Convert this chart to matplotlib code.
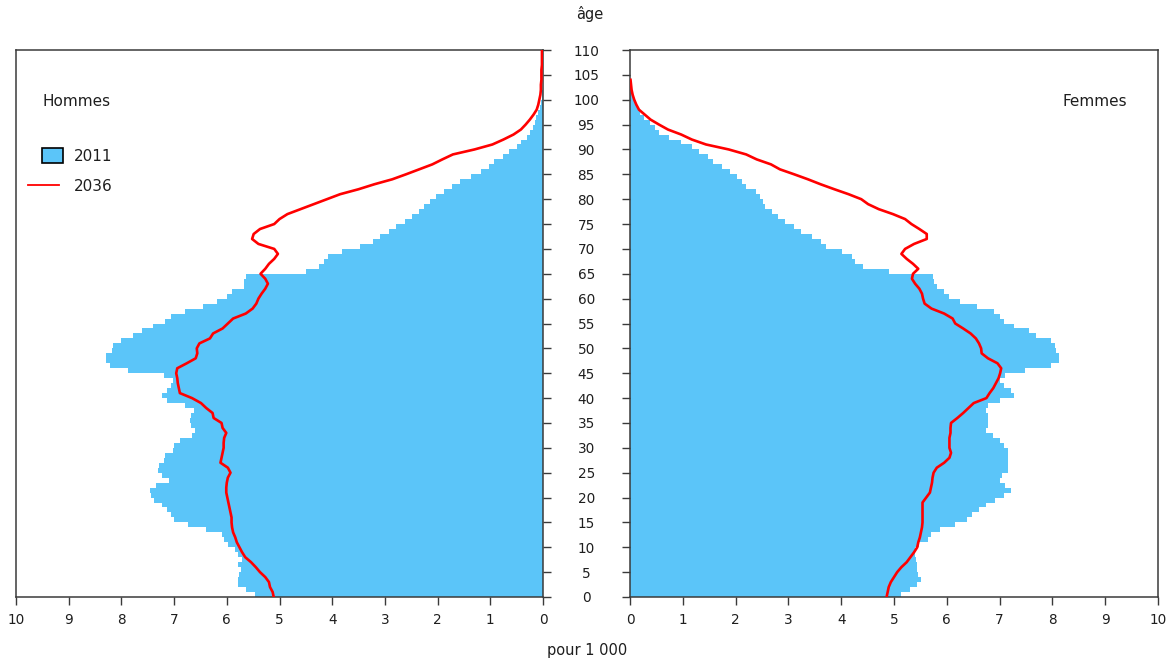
import numpy as np
import matplotlib
matplotlib.use("Agg")
import matplotlib.pyplot as plt
from matplotlib.patches import Patch, Rectangle
from matplotlib.lines import Line2D
from matplotlib.legend_handler import HandlerPatch

# ---------------- data (pour 1 000) ----------------
hommes_2011 = [5.47, 5.64, 5.78, 5.79, 5.76, 5.73, 5.78, 5.71, 5.79, 5.84,
               5.98, 6.06, 6.10, 6.39, 6.73, 7.00, 7.05, 7.13, 7.23, 7.39,
               7.44, 7.46, 7.34, 7.10, 7.23, 7.30, 7.28, 7.19, 7.17, 7.03,
               7.01, 6.89, 6.66, 6.61, 6.67, 6.69, 6.67, 6.62, 6.79, 7.13,
               7.23, 7.13, 7.06, 7.03, 7.20, 7.88, 8.22, 8.30, 8.30, 8.18,
               8.16, 8.01, 7.78, 7.61, 7.40, 7.17, 7.06, 6.79, 6.45, 6.18,
               6.00, 5.91, 5.68, 5.68, 5.64, 4.49, 4.25, 4.16, 4.08, 3.81,
               3.47, 3.23, 3.10, 2.93, 2.78, 2.62, 2.49, 2.35, 2.25, 2.15,
               2.03, 1.88, 1.72, 1.57, 1.37, 1.17, 1.02, 0.93, 0.76, 0.64,
               0.50, 0.42, 0.30, 0.25, 0.19, 0.15, 0.13, 0.09, 0.06, 0.03,
               0.02, 0.01, 0.005]
hommes_2036 = [5.11, 5.13, 5.18, 5.20, 5.27, 5.37, 5.45, 5.54, 5.65, 5.71,
               5.76, 5.81, 5.84, 5.88, 5.90, 5.91, 5.91, 5.93, 5.95, 5.97,
               5.99, 6.01, 6.01, 6.00, 5.98, 5.93, 5.98, 6.12, 6.10, 6.08,
               6.06, 6.06, 6.05, 6.01, 6.08, 6.10, 6.25, 6.27, 6.39, 6.49,
               6.66, 6.89, 6.91, 6.93, 6.94, 6.96, 6.94, 6.76, 6.59, 6.56,
               6.57, 6.52, 6.32, 6.26, 6.08, 5.98, 5.88, 5.64, 5.51, 5.44,
               5.40, 5.34, 5.27, 5.22, 5.27, 5.36, 5.27, 5.20, 5.10, 5.03,
               5.10, 5.40, 5.52, 5.49, 5.37, 5.10, 5.00, 4.85, 4.60, 4.35,
               4.10, 3.85, 3.50, 3.20, 2.86, 2.60, 2.35, 2.10, 1.91, 1.71,
               1.30, 0.96, 0.75, 0.56, 0.42, 0.33, 0.25, 0.18, 0.12, 0.09,
               0.07, 0.05, 0.04, 0.04, 0.03, 0.03, 0.03, 0.02, 0.02, 0.02,
               0.02]
femmes_2011 = [5.14, 5.31, 5.44, 5.51, 5.46, 5.44, 5.44, 5.42, 5.40, 5.40,
               5.48, 5.64, 5.71, 5.88, 6.15, 6.38, 6.48, 6.61, 6.75, 6.91,
               7.08, 7.21, 7.11, 7.00, 7.05, 7.15, 7.16, 7.16, 7.16, 7.15,
               7.08, 7.01, 6.87, 6.75, 6.78, 6.78, 6.78, 6.75, 6.78, 7.01,
               7.28, 7.21, 7.09, 7.01, 7.11, 7.48, 7.98, 8.12, 8.12, 8.06,
               8.05, 7.98, 7.68, 7.55, 7.28, 7.09, 7.01, 6.90, 6.58, 6.25,
               6.05, 5.95, 5.81, 5.75, 5.73, 4.90, 4.41, 4.26, 4.21, 4.01,
               3.71, 3.61, 3.44, 3.24, 3.11, 2.94, 2.81, 2.69, 2.56, 2.52,
               2.47, 2.39, 2.20, 2.12, 2.02, 1.90, 1.74, 1.57, 1.48, 1.30,
               1.17, 0.97, 0.73, 0.55, 0.47, 0.37, 0.27, 0.19, 0.15, 0.11,
               0.08, 0.05, 0.03, 0.01]
femmes_2036 = [4.86, 4.88, 4.90, 4.94, 5.00, 5.06, 5.14, 5.24, 5.31, 5.38,
               5.44, 5.46, 5.49, 5.51, 5.53, 5.54, 5.54, 5.54, 5.54, 5.54,
               5.61, 5.68, 5.70, 5.72, 5.73, 5.75, 5.81, 5.95, 6.05, 6.08,
               6.05, 6.05, 6.05, 6.07, 6.07, 6.08, 6.20, 6.31, 6.41, 6.51,
               6.75, 6.81, 6.88, 6.93, 6.98, 7.01, 7.03, 6.96, 6.78, 6.66,
               6.65, 6.61, 6.55, 6.45, 6.31, 6.16, 6.11, 5.95, 5.71, 5.58,
               5.55, 5.53, 5.48, 5.40, 5.34, 5.36, 5.46, 5.36, 5.24, 5.14,
               5.21, 5.38, 5.62, 5.62, 5.48, 5.33, 5.21, 4.98, 4.71, 4.51,
               4.38, 4.14, 3.87, 3.61, 3.37, 3.11, 2.84, 2.67, 2.40, 2.20,
               1.87, 1.44, 1.17, 0.97, 0.72, 0.55, 0.39, 0.28, 0.17, 0.12,
               0.08, 0.05, 0.03, 0.02, 0.01]

age_ticks = list(range(0, 111, 5))
x_ticks = list(range(0, 11))
label_2011 = "2011"
label_2036 = "2036"

# ---------------- style ----------------
BLUE = "#5bc5f9"
RED = "#ff0000"
SPINE = "#3a3a3a"
TXT = "#1e1e1e"
W, H = 1172, 662
DPI = 100
plt.rcParams['font.family'] = ['DejaVu Sans']

fig = plt.figure(figsize=(W / DPI, H / DPI), dpi=DPI)
fig.patch.set_facecolor("white")

bottom = (H - 597) / H
height = (597 - 50) / H
axL = fig.add_axes([16 / W, bottom, (543 - 16) / W, height])
axR = fig.add_axes([630 / W, bottom, (1158 - 630) / W, height])


def step_fill(ax, values):
    ages = np.arange(len(values))
    y = np.append(ages, ages[-1] + 1)
    x = np.append(values, values[-1])
    ax.fill_betweenx(y, 0, x, step='post', color=BLUE, linewidth=0, zorder=1)


def red_line(ax, values):
    ages = np.arange(len(values))
    ax.plot(values, ages, color=RED, lw=1.9, zorder=3)


step_fill(axL, hommes_2011)
red_line(axL, hommes_2036)
step_fill(axR, femmes_2011)
red_line(axR, femmes_2036)

for ax in (axL, axR):
    ax.set_ylim(0, 110)
    ax.set_yticks(age_ticks)
    ax.set_xticks(x_ticks)
    ax.set_xticklabels([str(v) for v in x_ticks], fontsize=9.8, color=TXT)
    for s in ax.spines.values():
        s.set_color(SPINE)
        s.set_linewidth(1.1)
    ax.tick_params(axis='both', direction='out', length=5.5, width=1.0,
                   color=SPINE)
    ax.tick_params(axis='x', pad=6)

axL.set_xlim(10, 0)
axR.set_xlim(0, 10)

axL.yaxis.tick_right()
axL.tick_params(axis='y', labelright=False, labelleft=False)
axR.yaxis.tick_left()
axR.set_yticklabels([str(a) for a in age_ticks], fontsize=9.8, color=TXT)
for lab in axR.get_yticklabels():
    lab.set_horizontalalignment('center')
axR.tick_params(axis='y', pad=26.0)

# texts
axL.text((42 - 16) / 527, (597 - 101) / 547, "Hommes", transform=axL.transAxes,
         ha='left', va='center', fontsize=11, color=TXT)
axR.text((1127 - 630) / 528, (597 - 101) / 547, "Femmes", transform=axR.transAxes,
         ha='right', va='center', fontsize=11, color=TXT)
fig.text(590 / W, 1 - 14 / H, "âge", ha='center', va='center', fontsize=10.5,
         color=TXT)
fig.text(587 / W, 1 - 650 / H, "pour 1 000", ha='center', va='center',
         fontsize=10.5, color=TXT)


def small_box(legend, orig_handle, xdescent, ydescent, width, height, fontsize):
    w = 0.70 * width
    h = 1.0 * fontsize
    return Rectangle((-xdescent + 0.45 * width, -ydescent + height / 2 - h / 2),
                     w, h)


handles = [Patch(facecolor=BLUE, edgecolor="black", linewidth=1.2),
           Line2D([0], [0], color=RED, lw=1.3)]
leg = axL.legend(handles, [label_2011, label_2036], loc='upper left',
                 bbox_to_anchor=((28 - 16) / 527, (597 - 149) / 547),
                 borderaxespad=0, borderpad=0, frameon=False, fontsize=11,
                 handlelength=2.0, handleheight=0.9, handletextpad=1.0,
                 labelspacing=0.95,
                 handler_map={Patch: HandlerPatch(patch_func=small_box)})
for t in leg.get_texts():
    t.set_color(TXT)

fig.savefig("out.png", dpi=DPI, facecolor="white")
